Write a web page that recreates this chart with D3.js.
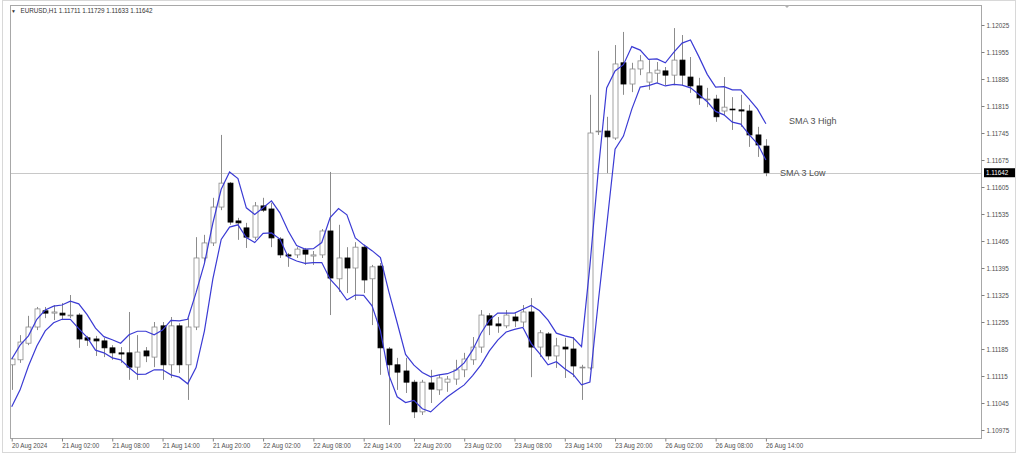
<!DOCTYPE html>
<html><head><meta charset="utf-8">
<script src="https://cdn.jsdelivr.net/npm/d3@7"></script>
<style>
html,body{margin:0;padding:0;background:#fff;}
svg{display:block;}
text{font-family:"Liberation Sans",Arial,sans-serif;}
</style>
</head><body>
<svg id="c" width="1024" height="461"></svg>
<script>
const symbolTitle = "EURUSD,H1  1.11711 1.11729 1.11633 1.11642";
const xTickLabels = ["20 Aug 2024","21 Aug 02:00","21 Aug 08:00","21 Aug 14:00","21 Aug 20:00",
  "22 Aug 02:00","22 Aug 08:00","22 Aug 14:00","22 Aug 20:00","23 Aug 02:00","23 Aug 08:00",
  "23 Aug 14:00","23 Aug 20:00","26 Aug 02:00","26 Aug 08:00","26 Aug 14:00"];
const yTickValues = [1.12025,1.11955,1.11885,1.11815,1.11745,1.11675,1.11605,1.11535,
  1.11465,1.11395,1.11325,1.11255,1.11185,1.11115,1.11045,1.10975];
const lastPrice = 1.11642;

const opens = [1.11144,1.11157,1.11200,1.11242,1.11284,1.11278,1.11278,1.11271,1.11273,1.11214,
1.11211,1.11206,1.11188,1.11175,1.11175,1.11138,1.11180,1.11164,1.11245,1.11144,
1.11245,1.11144,1.11242,1.11421,1.11460,1.11553,1.11615,1.11517,1.11499,1.11475,
1.11556,1.11548,1.11470,1.11429,1.11429,1.11442,1.11426,1.11429,1.11491,1.11367,
1.11421,1.11395,1.11449,1.11367,1.11400,1.11185,1.11144,1.11128,1.11099,1.11022,
1.11097,1.11079,1.11099,1.11107,1.11131,1.11157,1.11190,1.11271,1.11250,1.11245,
1.11268,1.11255,1.11281,1.11190,1.11224,1.11167,1.11190,1.11185,1.11136,1.11136,
1.11748,1.11750,1.11732,1.11927,1.11872,1.11911,1.11877,1.11900,1.11906,1.11895,
1.11934,1.11890,1.11867,1.11831,1.11833,1.11802,1.11807,1.11805,1.11802,1.11740,
1.11711];
const highs = [1.11164,1.11221,1.11271,1.11294,1.11294,1.11299,1.11304,1.11325,1.11278,1.11219,
1.11219,1.11214,1.11195,1.11190,1.11281,1.11221,1.11190,1.11255,1.11255,1.11268,
1.11252,1.11265,1.11475,1.11481,1.11577,1.11740,1.11618,1.11525,1.11512,1.11566,
1.11577,1.11564,1.11475,1.11434,1.11449,1.11447,1.11439,1.11496,1.11644,1.11507,
1.11449,1.11462,1.11455,1.11403,1.11408,1.11190,1.11162,1.11162,1.11105,1.11105,
1.11131,1.11118,1.11115,1.11157,1.11175,1.11216,1.11286,1.11278,1.11268,1.11286,
1.11278,1.11299,1.11317,1.11234,1.11229,1.11214,1.11214,1.11216,1.11144,1.11844,
1.11958,1.11787,1.11973,1.12007,1.11927,1.11947,1.11934,1.11929,1.11916,1.12017,
1.11999,1.11942,1.11888,1.11862,1.11844,1.11890,1.11838,1.11844,1.11818,1.11761,
1.11729];
const lows = [1.11079,1.11149,1.11195,1.11234,1.11265,1.11260,1.11260,1.11265,1.11188,1.11193,
1.11167,1.11164,1.11157,1.11149,1.11105,1.11105,1.11151,1.11138,1.11105,1.11110,
1.11123,1.11053,1.11234,1.11411,1.11452,1.11545,1.11507,1.11468,1.11447,1.11468,
1.11540,1.11449,1.11421,1.11398,1.11421,1.11403,1.11403,1.11421,1.11273,1.11333,
1.11330,1.11312,1.11330,1.11247,1.11118,1.10988,1.11079,1.11071,1.11006,1.11014,
1.11045,1.11066,1.11074,1.11092,1.11112,1.11144,1.11175,1.11221,1.11227,1.11239,
1.11242,1.11242,1.11112,1.11164,1.11157,1.11136,1.11110,1.11112,1.11053,1.11131,
1.11740,1.11641,1.11727,1.11844,1.11851,1.11895,1.11857,1.11875,1.11869,1.11869,
1.11869,1.11849,1.11818,1.11812,1.11774,1.11792,1.11753,1.11761,1.11709,1.11683,
1.11633];
const closes = [1.11159,1.11203,1.11242,1.11289,1.11278,1.11281,1.11273,1.11273,1.11211,1.11208,
1.11206,1.11188,1.11175,1.11172,1.11138,1.11177,1.11167,1.11242,1.11144,1.11245,
1.11144,1.11242,1.11421,1.11460,1.11553,1.11615,1.11514,1.11512,1.11475,1.11556,
1.11545,1.11473,1.11429,1.11426,1.11444,1.11431,1.11429,1.11491,1.11369,1.11421,
1.11395,1.11449,1.11364,1.11398,1.11188,1.11144,1.11125,1.11099,1.11022,1.11099,
1.11081,1.11110,1.11107,1.11131,1.11159,1.11190,1.11273,1.11247,1.11245,1.11273,
1.11258,1.11281,1.11190,1.11227,1.11167,1.11193,1.11185,1.11141,1.11138,1.11745,
1.11750,1.11735,1.11924,1.11872,1.11911,1.11932,1.11901,1.11908,1.11895,1.11934,
1.11895,1.11867,1.11836,1.11833,1.11787,1.11812,1.11805,1.11802,1.11740,1.11714,
1.11642];
const smaHigh = [1.11159,1.11195,1.11219,1.11262,1.11286,1.11296,1.11299,1.11309,1.11302,1.11274,
1.11239,1.11217,1.11209,1.11200,1.11222,1.11231,1.11231,1.11222,1.11234,1.11259,
1.11258,1.11262,1.11331,1.11407,1.11511,1.11599,1.11644,1.11627,1.11551,1.11534,
1.11551,1.11569,1.11538,1.11491,1.11453,1.11444,1.11445,1.11461,1.11526,1.11549,
1.11533,1.11473,1.11455,1.11440,1.11422,1.11334,1.11253,1.11171,1.11143,1.11124,
1.11113,1.11118,1.11121,1.11130,1.11149,1.11182,1.11226,1.11260,1.11278,1.11278,
1.11278,1.11288,1.11298,1.11284,1.11260,1.11226,1.11219,1.11214,1.11191,1.11401,
1.11648,1.11862,1.11906,1.11922,1.11969,1.11960,1.11936,1.11937,1.11927,1.11954,
1.11978,1.11986,1.11943,1.11897,1.11864,1.11865,1.11857,1.11857,1.11833,1.11807,
1.11769];
const smaLow = [1.11035,1.11079,1.11141,1.11193,1.11232,1.11253,1.11262,1.11262,1.11238,1.11215,
1.11182,1.11175,1.11162,1.11157,1.11137,1.11119,1.11120,1.11131,1.11131,1.11118,
1.11112,1.11095,1.11137,1.11232,1.11366,1.11469,1.11501,1.11507,1.11474,1.11461,
1.11485,1.11486,1.11470,1.11423,1.11413,1.11407,1.11409,1.11409,1.11366,1.11342,
1.11312,1.11325,1.11324,1.11297,1.11232,1.11118,1.11061,1.11046,1.11052,1.11030,
1.11022,1.11042,1.11061,1.11077,1.11092,1.11116,1.11144,1.11180,1.11208,1.11229,
1.11236,1.11241,1.11199,1.11173,1.11144,1.11152,1.11134,1.11119,1.11092,1.11099,
1.11308,1.11504,1.11703,1.11737,1.11807,1.11864,1.11868,1.11875,1.11867,1.11871,
1.11869,1.11862,1.11845,1.11826,1.11801,1.11792,1.11773,1.11768,1.11741,1.11717,
1.11675];

const svg = d3.select("#c");
const W = 1024, H = 461;
const plot = {left: 10, right: 982, top: 5, bottom: 439};
const n = opens.length;
const x = d3.scaleLinear().domain([0, 90]).range([11.7, 765.9]);
const y = d3.scaleLinear().domain([1.10975, 1.12025]).range([430, 25]);

svg.append("rect").attr("width", W).attr("height", H).attr("fill", "#fff");
// outer frame
svg.append("rect").attr("x", 2.5).attr("y", 0.5).attr("width", 1013).attr("height", 452)
  .attr("fill", "none").attr("stroke", "#d8d8d8");

svg.append("defs").append("clipPath").attr("id", "clip").append("rect")
  .attr("x", plot.left).attr("y", plot.top)
  .attr("width", plot.right - plot.left).attr("height", plot.bottom - plot.top);

const g = svg.append("g").attr("clip-path", "url(#clip)");

// current price line
g.append("line").attr("x1", plot.left).attr("x2", plot.right)
  .attr("y1", Math.round(y(lastPrice)) + 0.5).attr("y2", Math.round(y(lastPrice)) + 0.5)
  .attr("stroke", "#c8c8c8").attr("stroke-width", 1);

const idx = d3.range(n);
const px = i => Math.round(x(i)) + 0.5;

// wicks
g.selectAll("line.wick").data(idx).join("line").attr("class", "wick")
  .attr("x1", px).attr("x2", px)
  .attr("y1", i => y(highs[i])).attr("y2", i => y(lows[i]))
  .attr("stroke", "#8c8c8c").attr("stroke-width", 1);

// bodies
g.selectAll("rect.body").data(idx).join("rect").attr("class", "body")
  .attr("x", i => px(i) - 2.5)
  .attr("width", 5)
  .attr("y", i => y(Math.max(opens[i], closes[i])))
  .attr("height", i => Math.max(0.8, Math.abs(y(opens[i]) - y(closes[i]))))
  .attr("fill", i => closes[i] >= opens[i] ? "#ffffff" : "#000000")
  .attr("stroke", i => closes[i] >= opens[i] ? "#8c8c8c" : "#000000")
  .attr("stroke-width", 0.8);

// SMA lines
const line = d3.line().x((d, i) => x(i)).y(d => y(d));
g.append("path").datum(smaHigh).attr("d", line).attr("fill", "none")
  .attr("stroke", "#3b3bd4").attr("stroke-width", 1.2);
g.append("path").datum(smaLow).attr("d", line).attr("fill", "none")
  .attr("stroke", "#3b3bd4").attr("stroke-width", 1.2);

// plot frame
svg.append("rect").attr("x", plot.left + 0.5).attr("y", plot.top + 0.5)
  .attr("width", plot.right - plot.left - 1).attr("height", plot.bottom - plot.top - 1)
  .attr("fill", "none").attr("stroke", "#a8a8a8");

// right axis
const yAxis = d3.axisRight(y).tickValues(yTickValues).tickFormat(d3.format(".5f"))
  .tickSize(3).tickPadding(2);
const ya = svg.append("g").attr("transform", `translate(${plot.right - 0.5},0)`).call(yAxis);
ya.select(".domain").remove();
ya.selectAll("line").attr("stroke", "#808080");
ya.selectAll("text").attr("font-size", 6.3).attr("fill", "#505050")
  .attr("font-family", "Liberation Sans, Arial, sans-serif");

// bottom axis
const xAxis = d3.axisBottom(x).tickValues(d3.range(0, 91, 6))
  .tickFormat((d, i) => xTickLabels[i]).tickSize(3).tickPadding(2);
const xa = svg.append("g").attr("transform", `translate(0,${plot.bottom - 0.5})`).call(xAxis);
xa.select(".domain").remove();
xa.selectAll("line").attr("stroke", "#808080");
xa.selectAll("text").attr("font-size", 6.3).attr("fill", "#505050")
  .attr("text-anchor", "start").attr("dx", "-0.3")
  .attr("font-family", "Liberation Sans, Arial, sans-serif");

// last price label
const ly = y(lastPrice);
svg.append("rect").attr("x", 984).attr("y", ly - 4.5).attr("width", 31).attr("height", 9)
  .attr("fill", "#000");
svg.append("text").attr("x", 986).attr("y", ly + 2.3).attr("font-size", 6.3)
  .attr("fill", "#fff").text(d3.format(".5f")(lastPrice));

// title
svg.append("text").attr("x", 11).attr("y", 13).attr("font-size", 5)
  .attr("font-family", "DejaVu Sans").attr("fill", "#333").text("▼");
svg.append("text").attr("x", 20.5).attr("y", 13).attr("font-size", 6.3)
  .attr("fill", "#333").text(symbolTitle);

// shift marker
svg.append("path").attr("d", "M784,5 L790,5 L787,8 Z").attr("fill", "#b0b0b0");

// annotations
svg.append("text").attr("x", 789).attr("y", 124).attr("font-size", 9)
  .attr("fill", "#505050").text("SMA 3 High");
svg.append("text").attr("x", 780).attr("y", 176).attr("font-size", 9)
  .attr("fill", "#505050").text("SMA 3 Low");
</script>
</body></html>
